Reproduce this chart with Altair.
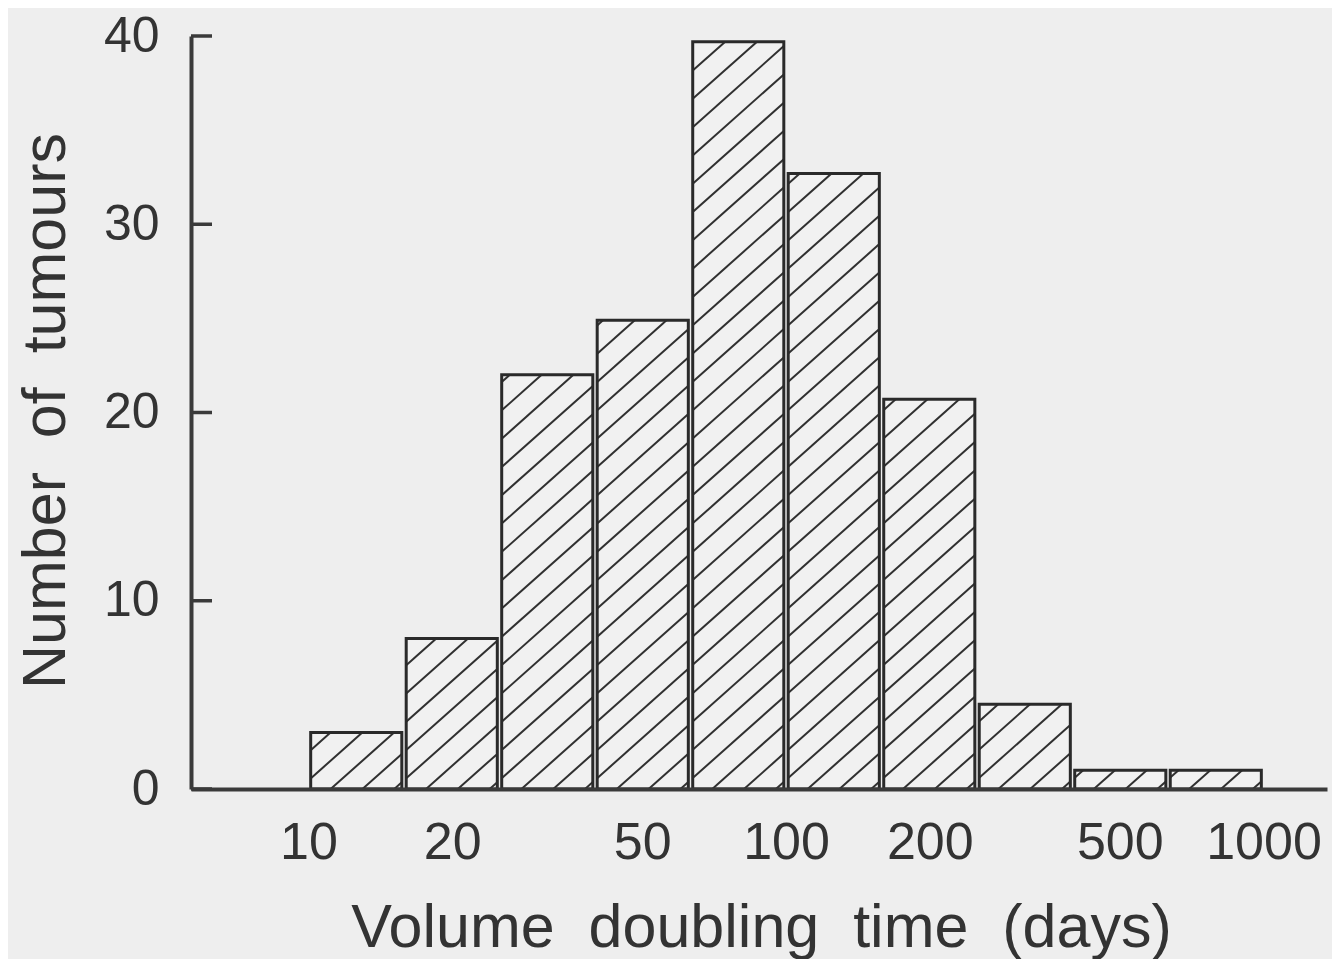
import math
import numpy as np
import pandas as pd
import altair as alt

# ---- data ----
bin_lo = [10.0, 15.85, 25.12, 39.81, 63.10, 100.0, 158.5, 251.2, 398.1, 631.0]
bin_hi = [15.85, 25.12, 39.81, 63.10, 100.0, 158.5, 251.2, 398.1, 631.0, 1000.0]
counts = [3, 8, 22, 24.9, 39.7, 32.7, 20.7, 4.5, 1, 1]
x_tick_values = [10, 20, 50, 100, 200, 500, 1000]
y_tick_values = [0, 10, 20, 30, 40]

# ---- geometry / style ----
W, H = 1136, 753
X_DOMAIN = [5.675, 1358.0]
Y_DOMAIN = [0, 40]
BG = "#eeeeee"
INK = "#333333"
FONT = "Liberation Sans"
INSET = 2.2

L0, L1 = math.log10(X_DOMAIN[0]), math.log10(X_DOMAIN[1])


def to_px(v):
    return W * (math.log10(v) - L0) / (L1 - L0)


def from_px(p):
    return 10 ** (L0 + p / W * (L1 - L0))


def ypx(c):
    return H * (1 - (c - Y_DOMAIN[0]) / (Y_DOMAIN[1] - Y_DOMAIN[0]))


def from_ypx(p):
    return Y_DOMAIN[0] + (1 - p / H) * (Y_DOMAIN[1] - Y_DOMAIN[0])


bars = pd.DataFrame({"lo": bin_lo, "hi": bin_hi, "count": counts})

# hatch segments (lines 0.89*x + y = c in screen space), clipped to each bar
SLOPE = 0.89
STEP = 28.3
segs = []
for lo, hi, c in zip(bin_lo, bin_hi, counts):
    xa, xb = to_px(lo) + INSET, to_px(hi) - INSET
    ya, yb = ypx(c), ypx(0)
    k = 0
    while k * STEP < SLOPE * W + H + STEP:
        cc = k * STEP
        k += 1
        xs = max(xa, (cc - yb) / SLOPE)
        xe = min(xb, (cc - ya) / SLOPE)
        if xe - xs > 0.5:
            segs.append({
                "lo": from_px(xs), "count": from_ypx(cc - SLOPE * xs),
                "hi": from_px(xe), "top": from_ypx(cc - SLOPE * xe),
            })
hatch_df = pd.DataFrame(segs)

xscale = alt.Scale(type="log", domain=X_DOMAIN, nice=False)
yscale = alt.Scale(domain=Y_DOMAIN, nice=False, zero=True)

XTITLE = "Volume\u00a0\u00a0doubling\u00a0\u00a0time\u00a0\u00a0(days)"
YTITLE = "Number\u00a0\u00a0of\u00a0\u00a0tumours"

xaxis = alt.Axis(
    values=x_tick_values, format="d", ticks=False, grid=False,
    domainColor="#3a3a3a", domainWidth=4,
    labelFont=FONT, labelFontSize=52, labelColor=INK,
    labelBaseline="alphabetic", labelPadding=69, labelFlush=False,
    labelOverlap=False,
    title=XTITLE,
    titleFont=FONT, titleFontSize=61, titleFontWeight="normal", titleColor=INK,
    titleBaseline="alphabetic", titleX=W / 2 + 2, titleY=157, titleAlign="center",
    zindex=1,
)
yaxis = alt.Axis(
    values=y_tick_values, ticks=False, grid=False,
    domainColor="#3a3a3a", domainWidth=4,
    labelFont=FONT, labelFontSize=50, labelColor=INK, labelPadding=32,
    labelFlush=False, labelOverlap=False,
    title=YTITLE,
    titleFont=FONT, titleFontSize=61, titleFontWeight="normal", titleColor=INK,
    titleBaseline="alphabetic", titleAngle=270, titleX=-127, titleY=H / 2 - 2,
    titleAlign="center",
    zindex=1,
)


def X(field):
    return alt.X(field, scale=xscale, axis=xaxis, title=XTITLE)


def Y(field):
    return alt.Y(field, scale=yscale, axis=yaxis, title=YTITLE, stack=None)


fill_layer = alt.Chart(bars).mark_bar(
    fill="#f1f1f1", strokeWidth=0, xOffset=INSET, x2Offset=-INSET
).encode(
    x=X("lo:Q"), x2="hi:Q", y=Y("count:Q"), y2=alt.datum(0),
)

hatch_layer = alt.Chart(hatch_df).mark_rule(color="#303030", strokeWidth=2).encode(
    x=X("lo:Q"), x2="hi:Q", y=Y("count:Q"), y2="top:Q",
)

outline_layer = alt.Chart(bars).mark_bar(
    fill="transparent", stroke="#2a2a2a", strokeWidth=3, xOffset=INSET, x2Offset=-INSET
).encode(
    x=X("lo:Q"), x2="hi:Q", y=Y("count:Q"), y2=alt.datum(0),
)

tick_layer = alt.Chart(pd.DataFrame({"count": y_tick_values})).mark_rule(
    color="#3a3a3a", strokeWidth=3.5
).encode(
    y=Y("count:Q"),
    x=alt.value(0),
    x2=alt.value(21),
)

chart = alt.layer(fill_layer, hatch_layer, outline_layer, tick_layer).properties(
    width=W, height=H,
    autosize=alt.AutoSizeParams(type="none"),
    padding={"left": 183, "top": 28, "right": 5, "bottom": 170},
    background=BG,
).configure_view(stroke=None)

chart.save("out.html", embed_options={"renderer": "svg", "actions": False})
